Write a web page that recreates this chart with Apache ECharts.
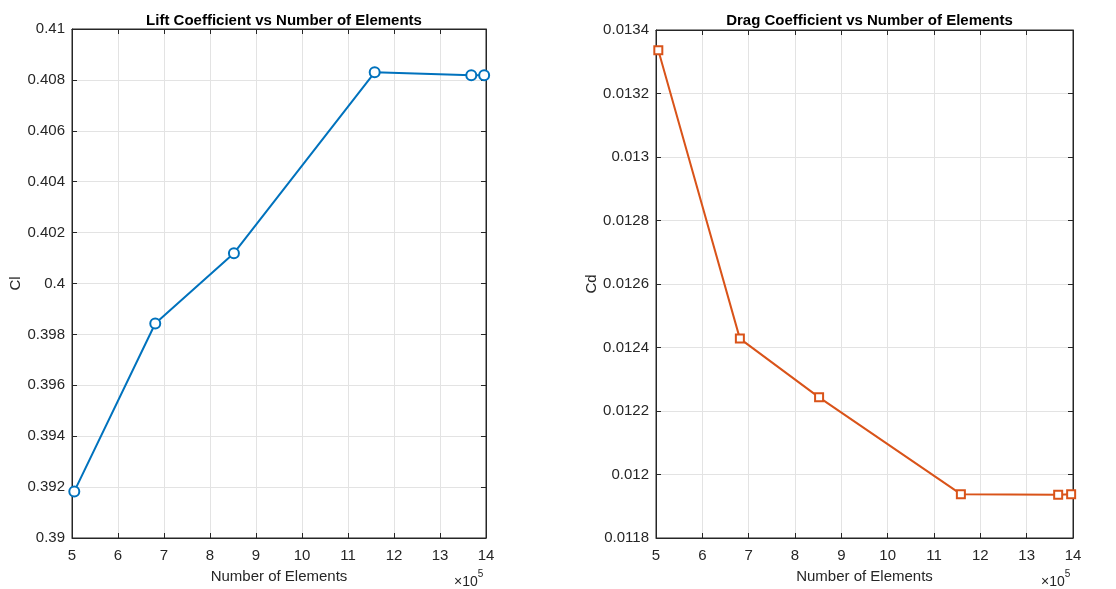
<!DOCTYPE html>
<html><head><meta charset="utf-8">
<script src="https://cdn.jsdelivr.net/npm/echarts@6/dist/echarts.min.js"></script>
<style>html,body{margin:0;padding:0;background:#fff}#c{width:1116px;height:589px}</style>
</head><body><div id="c"></div>
<script>
const elements = [505000, 681000, 852000, 1158000, 1368000, 1396000];
const liftCl = [0.39183, 0.39843, 0.40119, 0.40830, 0.40818, 0.40818];
const dragCd = [0.013336, 0.012428, 0.012243, 0.011938, 0.011936, 0.011938];
const xTicks = [5, 6, 7, 8, 9, 10, 11, 12, 13, 14];
const titles = ['Lift Coefficient vs Number of Elements', 'Drag Coefficient vs Number of Elements'];
const yNames = ['Cl', 'Cd'];
const xName = 'Number of Elements';

const FONT = '"Liberation Sans", Arial, sans-serif';
const TXT = '#262626';
const grids = [
  {left: 72, top: 29, width: 414, height: 510},
  {left: 656, top: 30, width: 417, height: 509}
];
const yRanges = [[0.39, 0.41, 0.002], [0.0118, 0.0134, 0.0002]];
const trim = v => String(parseFloat(v.toPrecision(6)));

const option = {
  animation: false,
  backgroundColor: '#fff',
  title: titles.map((t, i) => ({
    text: t, left: grids[i].left + grids[i].width / 2, top: 8, textAlign: 'center',
    textStyle: {fontFamily: FONT, fontSize: 15, fontWeight: 'bold', color: '#000'}
  })),
  grid: grids.map(g => Object.assign({show: true, borderColor: TXT, borderWidth: 1, backgroundColor: '#fff'}, g)),
  xAxis: [],
  yAxis: [],
  series: [],
  graphic: grids.map(g => ({
    type: 'text', left: g.left + g.width - 32, top: 569,
    style: {
      text: '{a|×10}{b|5}', fontFamily: FONT,
      rich: {a: {fontSize: 14, fill: TXT, fontFamily: FONT, padding: [6, 0, 0, 0]}, b: {fontSize: 10, fill: TXT, fontFamily: FONT, verticalAlign: 'top'}}
    }
  }))
};

for (let i = 0; i < 2; i++) {
  const [ymin, ymax, yint] = yRanges[i];
  option.xAxis.push({
    type: 'value', gridIndex: i, min: xTicks[0] * 1e5, max: xTicks[xTicks.length - 1] * 1e5, interval: 1e5,
    name: xName, nameLocation: 'middle', nameGap: 31,
    nameTextStyle: {fontFamily: FONT, fontSize: 15, color: TXT},
    axisLine: {lineStyle: {color: TXT}},
    axisTick: {inside: true, length: 5, lineStyle: {color: TXT}},
    axisLabel: {fontFamily: FONT, fontSize: 15, color: TXT, margin: 10, formatter: v => trim(v / 1e5)},
    splitLine: {show: true, lineStyle: {color: '#e3e3e3'}}
  });
  option.xAxis.push({
    type: 'value', gridIndex: i, position: 'top', min: xTicks[0] * 1e5, max: xTicks[xTicks.length - 1] * 1e5, interval: 1e5,
    axisLine: {lineStyle: {color: TXT}}, axisTick: {inside: true, length: 5, lineStyle: {color: TXT}},
    axisLabel: {show: false}, splitLine: {show: false}
  });
  option.yAxis.push({
    type: 'value', gridIndex: i, min: ymin, max: ymax, interval: yint,
    name: yNames[i], nameLocation: 'middle', nameGap: i === 0 ? 48 : 55, nameRotate: 90,
    nameTextStyle: {fontFamily: FONT, fontSize: 15, color: TXT},
    axisLine: {show: true, lineStyle: {color: TXT}},
    axisTick: {show: true, inside: true, length: 5, lineStyle: {color: TXT}},
    axisLabel: {fontFamily: FONT, fontSize: 15, color: TXT, margin: 7, formatter: v => trim(v)},
    splitLine: {show: true, lineStyle: {color: '#e3e3e3'}}
  });
  option.yAxis.push({
    type: 'value', gridIndex: i, position: 'right', min: ymin, max: ymax, interval: yint,
    axisLine: {show: true, lineStyle: {color: TXT}},
    axisTick: {show: true, inside: true, length: 5, lineStyle: {color: TXT}},
    axisLabel: {show: false}, splitLine: {show: false}
  });
}

const vals = [liftCl, dragCd];
const colors = ['#0072BD', '#D95319'];
const symbols = ['circle', 'rect'];
const sizes = [10, 8];
for (let i = 0; i < 2; i++) {
  option.series.push({
    type: 'line', xAxisIndex: i * 2, yAxisIndex: i * 2,
    data: elements.map((x, k) => [x, vals[i][k]]),
    symbol: symbols[i], symbolSize: sizes[i], showAllSymbol: true,
    itemStyle: {color: '#fff', borderColor: colors[i], borderWidth: 2},
    lineStyle: {color: colors[i], width: 2},
    z: 3
  });
}

const chart = echarts.init(document.getElementById('c'), null, {renderer: 'canvas'});
chart.setOption(option);
</script></body></html>
